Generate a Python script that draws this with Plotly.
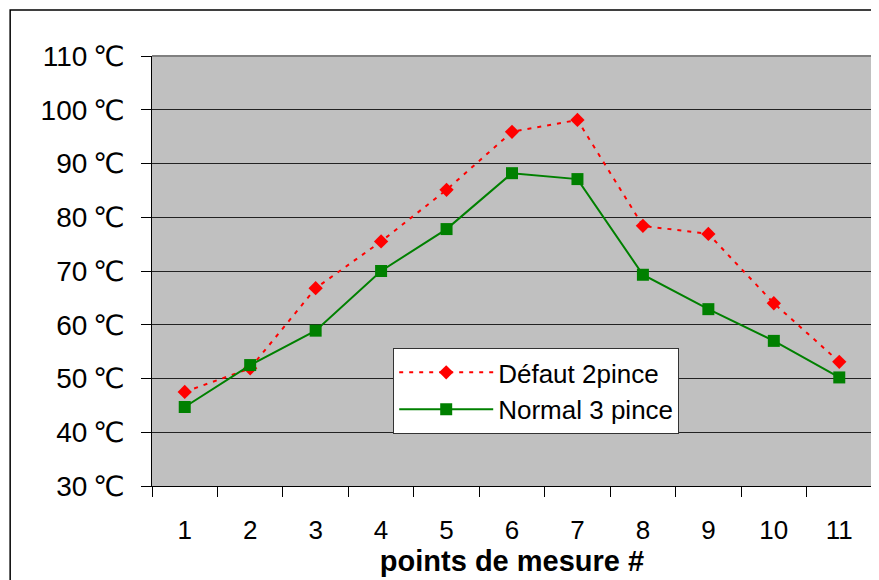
import plotly.graph_objects as go

categories = ["1", "2", "3", "4", "5", "6", "7", "8", "9", "10", "11"]
defaut_2pince = [47.5, 51.9, 66.8, 75.5, 85.1, 95.9, 98.1, 78.4, 76.9, 64.0, 53.1]
normal_3pince = [44.7, 52.5, 58.9, 70.0, 77.8, 88.2, 87.1, 69.3, 62.9, 57.0, 50.2]
y_tickvals = [30, 40, 50, 60, 70, 80, 90, 100, 110]
y_ticktext = ["30\u2009℃", "40\u2009℃", "50\u2009℃", "60\u2009℃", "70\u2009℃",
              "80\u2009℃", "90\u2009℃", "100\u2009℃", "110\u2009℃"]

FONT = "Liberation Sans, Arial, DejaVu Sans, sans-serif"

fig = go.Figure()
fig.add_trace(go.Scatter(
    x=categories, y=defaut_2pince, name="Défaut 2pince", mode="lines+markers",
    line=dict(color="#FF0000", width=2, dash="4px,6px"),
    marker=dict(symbol="diamond", size=11, color="#FF0000"),
    legendgroup="a",
))
fig.add_trace(go.Scatter(
    x=categories, y=normal_3pince, name="Normal 3 pince", mode="lines+markers",
    line=dict(color="#008000", width=2),
    marker=dict(symbol="square", size=12, color="#008000"),
    legendgroup="b",
))

fig.update_layout(
    width=871, height=572,
    margin=dict(l=144, r=7, t=48, b=94, autoexpand=False),
    paper_bgcolor="white", plot_bgcolor="#C0C0C0",
    font=dict(family=FONT, size=25, color="black"),
    showlegend=True,
    legend=dict(
        x=0.335, y=0.321, xanchor="left", yanchor="top",
        bgcolor="white", bordercolor="#333333", borderwidth=1,
        font=dict(size=26), itemwidth=94, tracegroupgap=6,
        traceorder="normal",
    ),
    xaxis=dict(
        type="category", categoryorder="array", categoryarray=categories,
        range=[-0.5, 10.5], automargin=False,
        tickson="boundaries", ticks="outside", ticklen=10, tickcolor="black",
        showgrid=False, showline=True, linecolor="black", linewidth=1,
        tickfont=dict(size=26), ticklabelstandoff=21,
        title=dict(text="<b>points de mesure #</b>", font=dict(size=29), standoff=0),
        zeroline=False,
    ),
    yaxis=dict(
        range=[30, 110], tickvals=y_tickvals, ticktext=y_ticktext, automargin=False,
        ticks="outside", ticklen=10, tickcolor="black",
        showgrid=True, gridcolor="#222222", gridwidth=1,
        showline=True, linecolor="black", linewidth=1,
        tickfont=dict(size=28), ticklabelstandoff=11,
        zeroline=False,
    ),
    shapes=[
        dict(type="line", xref="paper", yref="paper", x0=0, x1=1, y0=1, y1=1,
             line=dict(color="#808080", width=2)),
        dict(type="line", xref="paper", yref="paper", x0=1, x1=1, y0=0, y1=1,
             line=dict(color="#808080", width=2)),
        dict(type="rect", xref="paper", yref="paper", x0=-0.197, x1=1.05, y0=-0.4, y1=1.107,
             line=dict(color="black", width=1.5), layer="below"),
    ],
)

fig.write_html("out.html")
